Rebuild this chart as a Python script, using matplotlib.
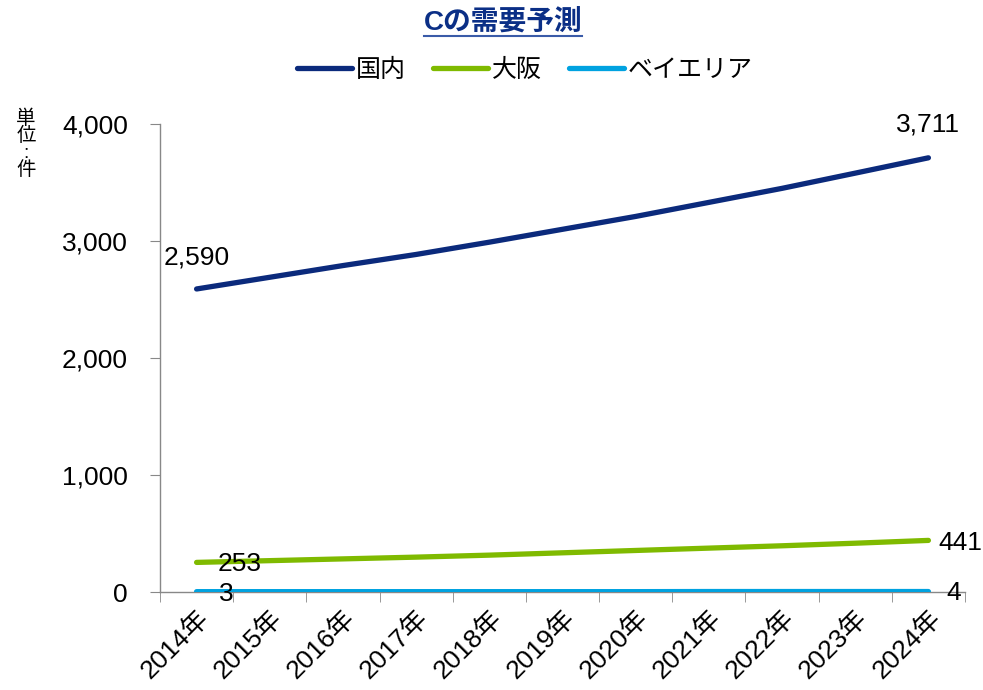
import matplotlib
matplotlib.use("Agg")
import matplotlib.pyplot as plt
from matplotlib.lines import Line2D

plt.rcParams['font.family'] = ['Liberation Sans', 'Noto Sans CJK JP', 'DejaVu Sans']

years = ["2014年", "2015年", "2016年", "2017年", "2018年", "2019年",
         "2020年", "2021年", "2022年", "2023年", "2024年"]
domestic = [2590, 2690, 2790, 2885, 2990, 3100, 3210, 3330, 3450, 3580, 3711]
osaka = [253, 268, 283, 298, 315, 335, 355, 375, 395, 417, 441]
bay = [3, 3, 3, 3, 3, 3, 3, 4, 4, 4, 4]
series_names = ["国内", "大阪", "ベイエリア"]
colors = ["#0B2A7C", "#7FBA00", "#00A2E0"]

fig = plt.figure(figsize=(9.83, 6.90), dpi=100)
ax = fig.add_axes([160/983, 1-592/690, (965-160)/983, (592-124)/690])

x = list(range(len(years)))
for vals, c, n in zip([domestic, osaka, bay], colors, series_names):
    ax.plot(x, vals, color=c, lw=3.8, solid_capstyle='round', label=n, zorder=3)

ax.set_xlim(-0.5, len(years) - 0.5)
ax.set_ylim(0, 4000)
ax.set_yticks([0, 1000, 2000, 3000, 4000])
ax.set_yticklabels(["0", "1,000", "2,000", "3,000", "4,000"])
ax.set_xticks(x)
ax.set_xticklabels(years, rotation=45, ha='right', rotation_mode='anchor')
ax.set_xticks([i - 0.5 for i in range(len(years) + 1)], minor=True)
ax.tick_params(axis='x', which='major', length=0, pad=10, labelsize=19)
ax.tick_params(axis='x', which='minor', length=7, color='#888888', direction='out')
ax.tick_params(axis='y', length=7, color='#888888', labelsize=19, pad=16)
for s in ['top', 'right']:
    ax.spines[s].set_visible(False)
for s in ['left', 'bottom']:
    ax.spines[s].set_color('#888888')
    ax.spines[s].set_linewidth(1)

fs = 19
ax.annotate(f"{domestic[0]:,}", (0, domestic[0]), xytext=(0, 23), textcoords='offset points',
            ha='center', va='center', fontsize=fs)
ax.annotate(f"{domestic[-1]:,}", (10, domestic[-1]), xytext=(0, 24), textcoords='offset points',
            ha='center', va='center', fontsize=fs)
ax.annotate(f"{osaka[0]:,}", (0, osaka[0]), xytext=(15, -1.5), textcoords='offset points',
            ha='left', va='center', fontsize=fs, zorder=5)
ax.annotate(f"{osaka[-1]:,}", (10, osaka[-1]), xytext=(7, -2), textcoords='offset points',
            ha='left', va='center', fontsize=fs)
ax.annotate(f"{bay[0]:,}", (0, bay[0]), xytext=(16, -1.5), textcoords='offset points',
            ha='left', va='center', fontsize=fs, zorder=5)
ax.annotate(f"{bay[-1]:,}", (10, bay[-1]), xytext=(13, -1), textcoords='offset points',
            ha='left', va='center', fontsize=fs)

# legend
handles = [Line2D([0], [0], color=c, lw=3.8, solid_capstyle='round') for c in colors]
fig.legend(handles, series_names, loc='center', bbox_to_anchor=(525/983, 1 - 70/690),
           ncol=3, frameon=False, fontsize=18, handlelength=2.2, handletextpad=0.15,
           columnspacing=1.1)

# title with underline
title_color = "#0B2F86"
t = fig.text(503/983, 1 - 22/690, "Cの需要予測", ha='center', va='center',
             fontsize=20, fontweight='bold', color=title_color)
fig.canvas.draw()
bb = t.get_window_extent()
W, H = fig.get_size_inches() * fig.dpi
fig.add_artist(Line2D([bb.x0 / W, bb.x1 / W], [(bb.y0 - 1) / H, (bb.y0 - 1) / H],
                      color="#3A5BA8", lw=1.5))

# y unit label (stacked vertically as one text)
fig.text(26/983, 1 - 144/690, "単\n位\n:\n件", ha='center', va='center',
         fontsize=14, linespacing=0.95, multialignment='center')

fig.savefig("out.png", dpi=100)
